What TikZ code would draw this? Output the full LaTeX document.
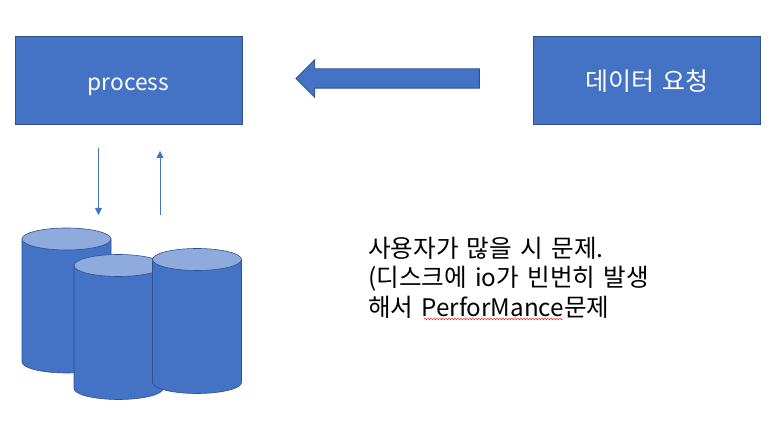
\documentclass[tikz,border=0pt]{standalone}
\usepackage{fontspec}
\setmainfont[WordSpace=1.5]{Noto Sans CJK KR}
\usepackage{xcolor}
\usetikzlibrary{positioning,arrows.meta,shapes.arrows,decorations.pathmorphing}
\definecolor{fillb}{HTML}{4472C4}
\definecolor{lineb}{HTML}{2F528F}
\definecolor{topb}{HTML}{8FAADC}
\newcommand{\latn}[1]{{\fontsize{24.2}{29.5}\selectfont #1}}
\newcommand{\boxtxt}[1]{\raisebox{-10.5pt}[0pt][0pt]{#1}}
\tikzset{
  >={Triangle[length=7pt,width=7pt]},
  box/.style={draw=lineb, line width=0.6pt, fill=fillb, text=white, minimum width=227pt,
              minimum height=88pt, inner sep=0pt, font=\fontsize{22.7}{27}\selectfont},
  bigarrow/.style={draw=lineb, line width=0.8pt, fill=fillb, single arrow, shape border rotate=180,
              minimum height=183.5pt, single arrow head extend=9.25pt,
              single arrow head indent=0pt, inner sep=9.25pt, minimum width=37pt, text width=0pt},
  dbcyl/.pic={
    \draw[draw=lineb, line width=0.6pt, fill=fillb] (-44.5,61.5) -- (-44.5,-61.5)
      arc[start angle=180, end angle=360, x radius=44.5, y radius=11] -- (44.5,61.5);
    \draw[draw=lineb, line width=0.6pt, fill=topb] (0,61.5) ellipse[x radius=44.5, y radius=11];
  },
  iol/.style={->, draw=fillb, line width=0.8pt},
  note/.style={align=left, inner sep=0pt, anchor=north west,
              font=\fontsize{24.6}{29.5}\selectfont},
}
\begin{document}
\begin{tikzpicture}[x=1pt,y=1pt]
  \useasboundingbox (0,0) rectangle (779,-435);
  \node[box] (proc) at (128.5,-80) {\boxtxt{process}};
  \node[box, right=291pt of proc, font=\fontsize{25}{29}\selectfont] (req) {\boxtxt{데이터 요청}};
  \node[bigarrow, left=53.5pt of req, yshift=1.5pt] (reqarrow) {};
  \pic at (66.5,-300.5) {dbcyl};
  \pic at (118.5,-327) {dbcyl};
  \pic at (197,-321) {dbcyl};
  \node[note] (txt) at (368,-236.5) {사용자가 많을 시 문제.\\(디스크에 \latn{io}가 빈번히 발생\\해서 \latn{PerforMance}문제};
  \coordinate (rdfrom) at (98.5,-148);
  \coordinate (rdto) at (98.5,-215);
  \coordinate (wrfrom) at (160,-215);
  \coordinate (wrto) at (160,-151);
  \coordinate (spella) at (424,-319);
  \coordinate (spellb) at (563,-319);
  \draw[iol] (rdfrom) -- (rdto);
  \draw[iol] (wrfrom) -- (wrto);
  \draw[red, line width=0.4pt, decorate, decoration={snake, amplitude=0.8pt, segment length=3pt}] (spella) -- (spellb);
\end{tikzpicture}
\end{document}
